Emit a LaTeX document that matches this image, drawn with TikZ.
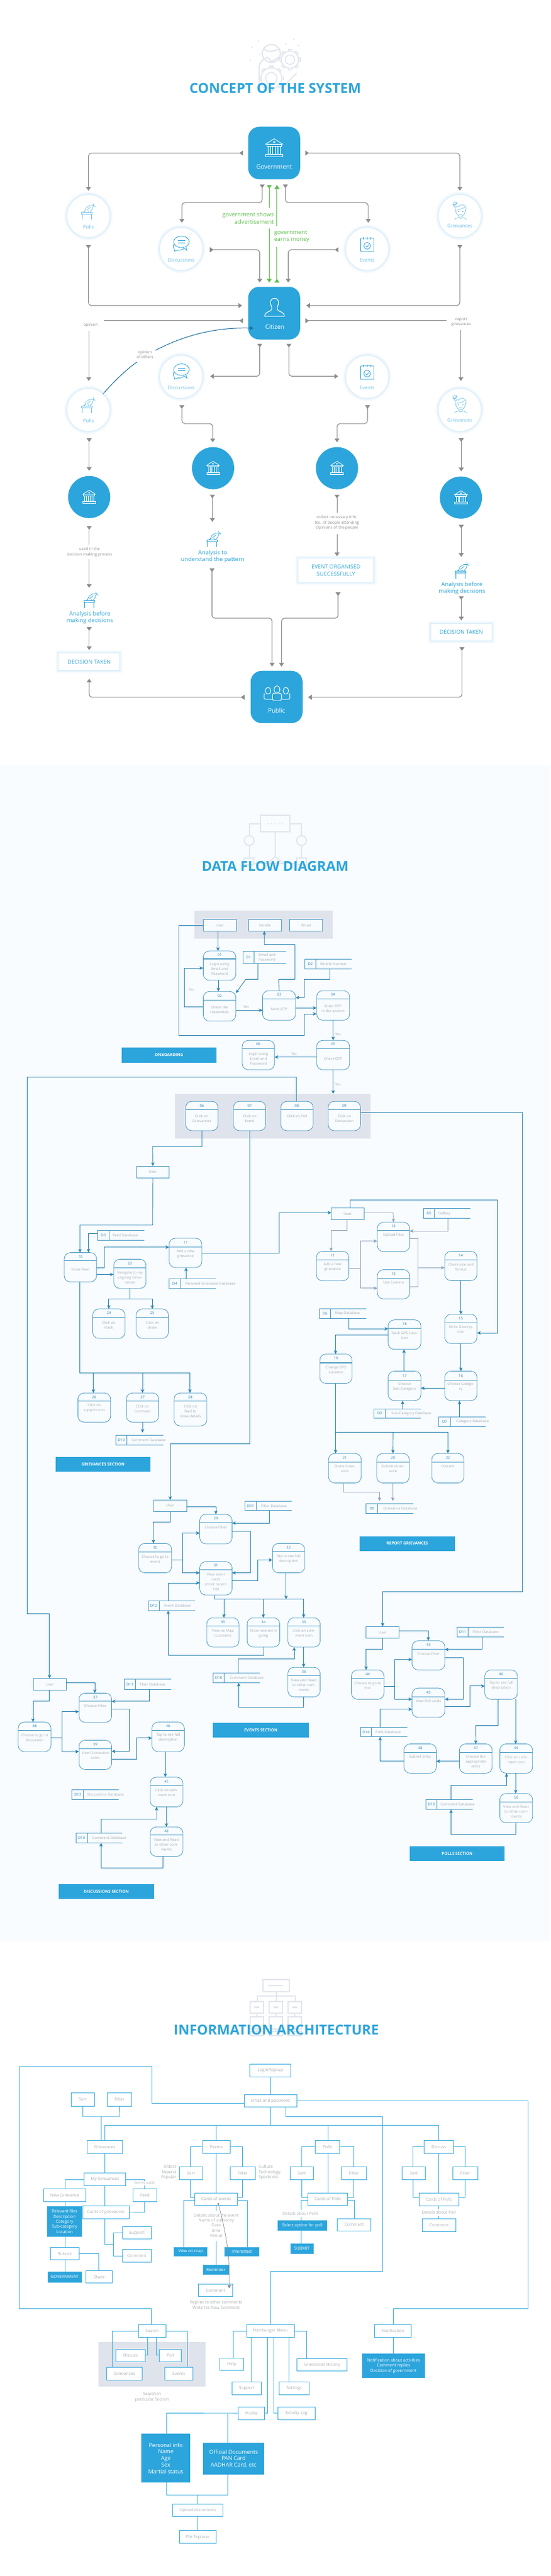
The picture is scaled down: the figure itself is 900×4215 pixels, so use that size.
\documentclass[tikz,border=0pt]{standalone}
\usepackage{fontspec}
\setmainfont{Open Sans}
\usetikzlibrary{arrows.meta,shapes.geometric}
\definecolor{bl}{HTML}{2CA5DC}
\definecolor{lbl}{HTML}{6FC1EB}
\definecolor{gl}{HTML}{BFE3F7}
\definecolor{ag}{HTML}{8C8C8C}
\definecolor{grn}{HTML}{5BBF4A}
\definecolor{dkb}{HTML}{1C6F9F}
\definecolor{bgd}{HTML}{F8FCFF}
\definecolor{pan}{HTML}{DFE3EC}
\definecolor{ico}{HTML}{E2E6EE}
\definecolor{txg}{HTML}{A8ADB2}
\definecolor{fc}{HTML}{2B83B0}
\definecolor{bc}{HTML}{4B9BC4}
\definecolor{fgr}{HTML}{8FA3BD}
\definecolor{il}{HTML}{3FAEE0}
\tikzset{
 crop/.code 2 args={\pgfmathsetmacro\ysc{1/#1}\tikzset{x=0.5740pt,y=-\ysc pt,shift={(0pt,-#2pt)}}},
 base/.style={inner sep=0pt,outer sep=0pt,align=center},
 panelb/.style={base,fill=pan},
 glow/.style={fill=white,preaction={draw=gl,line width=11pt,opacity=.08},preaction={draw=gl,line width=8pt,opacity=.12},preaction={draw=gl,line width=5pt,opacity=.18},preaction={draw=gl,line width=2.5pt,opacity=.25}},
 circ/.style={base,circle,minimum size=69pt,glow},
 bank/.style={base,circle,minimum size=69pt,fill=bl},
 rbox/.style={base,fill=bl,rounded corners=18pt},
 wbox/.style={base,glow,font=\fontsize{9}{11.3}\selectfont,text=bl},
 wlab/.style={base,text=white,font=\fontsize{10}{12}\selectfont},
 clab/.style={base,text=lbl,font=\fontsize{8}{10}\selectfont},
 blab/.style={base,text=bl,font=\fontsize{9.5}{11.3}\selectfont},
 glab/.style={base,text=ag,font=\fontsize{6.5}{8.4}\selectfont},
 gtxt/.style={base,text=grn,font=\fontsize{9.5}{11.3}\selectfont},
 garr/.style={draw=ag,line width=1.1pt,rounded corners=5pt,shorten <=8.5pt,shorten >=8.5pt,{Triangle[reversed,length=6pt,width=8pt]}-{Triangle[length=6pt,width=8pt]}},
 gend/.style={draw=ag,line width=1.1pt,rounded corners=5pt,-{Triangle[length=6pt,width=8pt]}},
 gbeg/.style={draw=ag,line width=1.1pt,rounded corners=5pt,{Triangle[reversed,length=6pt,width=8pt]}-},
 gline/.style={draw=grn,line width=1pt},
 proc/.style={base,draw=bc,line width=.8pt,fill=bgd,rounded corners=10pt},
 hdr/.style={draw=bc,line width=1.1pt},
 numt/.style={base,text=fc,font=\fontsize{6}{8}\selectfont},
 dtxt/.style={base,text=txg,font=\fontsize{6}{8}\selectfont},
 dbox/.style={base,draw=bc,line width=.8pt,fill=bgd,text=txg,font=\fontsize{6}{8}\selectfont},
 dsb/.style={base},
 dsl/.style={draw=bc,line width=.8pt},
 fb/.style={base,fill=bl,text=white,font=\fontsize{6.6}{9}\bfseries\selectfont},
 fl/.style={draw=fc,line width=.9pt,-{Stealth[length=6pt,width=5.5pt,inset=1.5pt]}},
 fn/.style={draw=fc,line width=.9pt},
 fg/.style={draw=fgr,line width=.9pt,-{Stealth[length=6pt,width=5.5pt,inset=1.5pt]}},
 fgn/.style={draw=fgr,line width=.9pt},
 ibox/.style={base,draw=il,line width=.9pt,fill=white,text=txg,font=\fontsize{6.8}{8.3}\selectfont},
 ifill/.style={base,draw=il,line width=.5pt,fill=bl,text=white,font=\fontsize{6.8}{8.3}\selectfont},
 ibig/.style={base,fill=bl,text=white,font=\fontsize{9}{10.7}\selectfont},
 itxt/.style={base,text=txg,font=\fontsize{6.8}{8.3}\selectfont},
 ln/.style={draw=il,line width=.9pt},
 ttl/.style={base,text=bl,font=\fontsize{22.5}{28}\bfseries\selectfont},
 icn/.style={draw=ico,line width=2pt},
 pics/bankic/.style={code={\begin{scope}[x=1pt,y=-1pt,draw=#1,line width=.8pt]
   \draw (-14,-6)--(0,-15)--(14,-6)--cycle;
   \draw (-12,-6) rectangle (12,-3);
   \draw (0,-9.5) circle (1.2);
   \draw (-10,-3) rectangle (-6,10);
   \draw (-2.5,-3) rectangle (2.5,10);
   \draw (6,-3) rectangle (10,10);
   \draw (-14,10) rectangle (14,14);
 \end{scope}}},
 pics/pollic/.style={code={\begin{scope}[x=1pt,y=-1pt,draw=#1,line width=.7pt]
   \draw (-10,1) rectangle (7,4);
   \draw (-9,4)--(-9,13) (6,4)--(6,13);
   \draw[line join=round] (-5,1)--(-2,-6)--(4,-10)--(10,-10)--(8,-4)--(4,1);
   \draw (-1,-2)--(5,-7) (9,-13)--(10,-10)--(13,-8);
   \draw (-7,1)--(-3,-1) (1,-1)--(3,1);
 \end{scope}}},
 pics/discic/.style={code={\begin{scope}[x=1pt,y=-1pt,draw=#1,line width=.8pt]
   \draw (0,-5) ellipse (12.7 and 9.5);
   \draw[fill=white] (7,3)--(9,9)--(3,4.5);
   \draw (-6,-7)--(6,-7) (-6,-3.5)--(6,-3.5);
   \draw (-12.3,-2) .. controls (-14,2) and (-14,5) .. (-12,6.5)--(-11,10.5)--(-6,8.5) .. controls (-2,9) and (2,8) .. (4,5.8);
 \end{scope}}},
 pics/evic/.style={code={\begin{scope}[x=1pt,y=-1pt,draw=#1,line width=.8pt]
   \draw[rounded corners=1pt] (-10.8,-11) rectangle (10.8,11);
   \draw (-6,-13)--(-6,-9) (0,-13)--(0,-9) (6,-13)--(6,-9);
   \draw (0,1.5) circle (5.6);
   \draw (-2.5,1.5)--(-.6,3.5)--(2.8,-.5);
 \end{scope}}},
 pics/grvic/.style={code={\begin{scope}[x=1pt,y=-1pt,draw=#1,line width=.7pt]
   \draw (-8,-3) .. controls (-8,4) and (-4,8) .. (0,8) .. controls (4,8) and (8,4) .. (8,-3);
   \draw (-8,-3) .. controls (-9,-8) and (-6,-9) .. (-3,-8) .. controls (0,-13) and (10,-12) .. (9,-3) -- (8,0);
   \draw (-6,-3) .. controls (-3,-3) and (3,-4) .. (7,-7);
   \draw (-4,0)--(-2,0) (3,0)--(5,0) (-2,4.5)--(2,4.5);
   \draw (-3,7)--(-3,10) .. controls (-6,11) and (-9,11) .. (-10,13) (3,7)--(3,10) .. controls (6,11) and (9,11) .. (10,13);
   \draw (-3,10) .. controls (-1,12) and (1,12) .. (3,10);
   \draw (-9,-13) circle (2.6) (-13,-12)--(-9,-7) (-6,-15)--(-11,-9);
 \end{scope}}},
 pics/citic/.style={code={\begin{scope}[x=1pt,y=-1pt,draw=white,line width=1.1pt]
   \draw (-4.5,-1) .. controls (-8,-7) and (-8,-15) .. (0,-15) .. controls (8,-15) and (8,-7) .. (4.5,-1) -- (4.5,3) .. controls (6,7) and (16,6) .. (16,14) -- (-16,14) .. controls (-16,6) and (-6,7) .. (-4.5,3) -- cycle;
 \end{scope}}},
 pics/pubic/.style={code={\begin{scope}[x=1pt,y=-1pt,draw=white,line width=.9pt]
   \draw (-14.5,-4) ellipse (4.5 and 5.5);
   \draw (14.5,-4) ellipse (4.5 and 5.5);
   \draw (-20,2) .. controls (-21,0) and (-21,1) .. (-21,3) -- (-21,8) .. controls (-21,9) and (-20,10) .. (-19,10) -- (-8,10);
   \draw (20,2) .. controls (21,0) and (21,1) .. (21,3) -- (21,8) .. controls (21,9) and (20,10) .. (19,10) -- (8,10);
   \draw[fill=bl] (0,-6) ellipse (4.8 and 6);
   \draw[fill=bl,rounded corners=3pt] (-7.5,0) rectangle (7.5,12);
 \end{scope}}},
 pics/gearic/.style={code={\begin{scope}[x=1pt,y=-1pt,draw=ico,line width=1.6pt]
   \draw (0,0) circle (#1);
   \pgfmathsetmacro\gi{#1*.55}
   \draw (0,0) circle (\gi);
   \foreach \a in {0,45,...,315}{\draw[rotate=\a] (-2.5,-#1) -- (-2.5,{-#1-2.8}) -- (2.5,{-#1-2.8}) -- (2.5,-#1);}
 \end{scope}}},
}
\newcommand\nb[7][ibox]{\pgfmathsetmacro\nbW{(#5-#3)*0.574}\pgfmathsetmacro\nbH{(#6-#4)*\ysc}\node[#1,minimum width=\nbW pt,minimum height=\nbH pt] (#2) at ({(#3+#5)/2},{(#4+#6)/2}) {#7};}
\newcommand\pr[9]{\nb[proc]{#1}{#2}{#3}{#4}{#5}{}\draw[hdr] (#2,#6) -- (#4,#6);\node[numt] (#1-n) at ({(#2+#4)/2},{(#3+#6)/2}) {#7};\node[dtxt] (#1-t) at ({(#2+#4)/2},#8) {#9};}
\newcommand\ds[9]{\nb[dsb]{#1}{#2}{#3}{#4}{#5}{}\draw[dsl] (#4,#3) -- (#2,#3) -- (#2,#5) -- (#4,#5) (#6,#3) -- (#6,#5);\node[numt] (#1-n) at ({(#2+#6)/2},{(#3+#5)/2}) {#7};\node[dtxt,anchor=west,align=left] (#1-t) at (#8,{(#3+#5)/2}) {#9};}
\begin{document}
\begin{tikzpicture}
\useasboundingbox (0pt,0pt) rectangle (900pt,-4215pt);
\fill[white] (0pt,0pt) rectangle (900pt,-4215pt);
\fill[bgd] (0pt,-1251pt) rectangle (900pt,-3177pt);

%% ---------- CONCEPT, upper part
\begin{scope}[crop={2.376}{0}]
 \draw[icn] (773,208) circle (14.7pt);
 \draw[icn] (752,190) .. controls (762,205) and (780,200) .. (797,190);
 \draw[icn] (738,330) -- (738,265) .. controls (738,240) and (750,230) .. (762,222);
 \draw[icn] (762,222) -- (773,240) -- (795,222) (800,345) -- (845,285);
 \pic at (773,304) {gearic=17};
 \pic at (826,232) {gearic=14};
 \foreach \px/\py in {736/160, 718/185, 741/210, 713/235, 814/172, 837/154, 850/176}{\fill[ico] (\px,\py) circle (1.4pt);}
 \node[ttl] (t1) at (784,343) {CONCEPT OF THE SYSTEM};

 \nb[rbox]{gov}{707}{493}{855}{697}{}
 \pic at (781,575) {bankic=white};
 \node[wlab] (govt) at (781,649) {Government};
 \nb[rbox]{cit}{707}{1115}{855}{1320}{}
 \pic at (782,1196) {citic};
 \node[wlab] (citt) at (783,1271) {Citizen};

 \node[circ] (polls) at (252,840) {};
 \pic at (249,822) {pollic=lbl};
 \node[clab] (pollst) at (252,882) {Polls};
 \node[circ] (griev) at (1310,840) {};
 \pic at (1312,822) {grvic=lbl};
 \node[clab] (grievt) at (1310,879) {Grievances};
 \node[circ] (disc) at (516,968) {};
 \pic at (517,952) {discic=bl};
 \node[clab] (disct) at (516,1011) {Discussions};
 \node[circ] (even) at (1046,968) {};
 \pic at (1046,952) {evic=bl};
 \node[clab] (event) at (1046,1011) {Events};
 \node[circ] (disc2) at (516,1465) {};
 \pic at (517,1449) {discic=bl};
 \node[clab] (disc2t) at (516,1508) {Discussions};
 \node[circ] (even2) at (1046,1465) {};
 \pic at (1046,1449) {evic=bl};
 \node[clab] (even2t) at (1046,1508) {Events};

 \draw[garr,shorten >=7pt] (gov.west) -| (polls.north);
 \draw[garr,shorten >=7pt] (gov.east) -| (griev.north);
 \draw[garr] (gov.south -| 747,0) -- (747,788) -- (518,788) -- (disc.north -| 518,0);
 \draw[garr] (gov.south -| 813,0) -- (813,788) -- (1049,788) -- (even.north -| 1049,0);
 \draw[garr,shorten <=12.5pt,shorten >=7pt] (disc.east |- 0,971) -- (740,971) -- (cit.north -| 740,0);
 \draw[garr,shorten <=12.5pt,shorten >=7pt] (even.west |- 0,971) -- (821,971) -- (cit.north -| 821,0);
 \draw[garr,shorten <=13pt,shorten >=10pt] (polls.south) -- (252,1188) -- (cit.west |- 0,1188);
 \draw[garr,shorten <=13pt,shorten >=10pt] (griev.south) -- (1310,1188) -- (cit.east |- 0,1188);

 \node[gtxt,anchor=east,align=right] (gshow) at (780,848) {government shows\\advertisement};
 \node[gtxt,anchor=west,align=left] (gearn) at (781,920) {government\\earns money};
 \coordinate (ga1) at (767,808); \coordinate (ga2) at (767,888);
 \coordinate (gb1) at (789,880); \coordinate (gb2) at (789,960);
 \draw[gline,shorten <=9.5pt,{Triangle[reversed,length=6pt,width=8pt]}-] (gov.south -| 767,0) -- (ga1);
 \draw[gline,shorten >=7pt,-{Triangle[length=6pt,width=8pt]}] (ga2) -- (cit.north -| 767,0);
 \draw[gline,shorten >=9.5pt,-{Triangle[length=6pt,width=8pt]}] (gb1) -- (gov.south -| 789,0);
 \draw[gline,shorten <=7pt,{Triangle[reversed,length=6pt,width=8pt]}-] (cit.north -| 789,0) -- (gb2);

 \node[glab] (opin) at (258,1263) {opinion};
 \draw[gbeg,shorten <=8.5pt] (cit.west |- 0,1247) -- (296,1247);
 \draw[gend,shorten >=13pt] (opin.south -| 253,0) ++(0,15) -- (253,1512);
 \node[glab] (repg) at (1314,1252) {report\\grievances};
 \draw[gbeg,shorten <=8.5pt] (cit.east |- 0,1247) -- (1272,1247);
 \draw[gend,shorten >=13pt] (repg.south -| 1313,0) ++(0,15) -- (1313,1512);

 \node[glab] (opo) at (413,1379) {opinion\\of others};
 \fill[dkb] (290,1537) circle (2.4pt);
 \draw[draw=dkb,line width=1pt] (290,1537) .. controls (320,1490) and (360,1435) .. (390,1408);
 \draw[draw=dkb,line width=1pt,-{Triangle[length=6pt,width=7pt]}] (443,1362) .. controls (530,1300) and (620,1272) .. (722,1276);
 \draw[garr,shorten <=7pt,shorten >=13pt] (cit.south -| 740,0) -- (740,1463) -- (disc2.east |- 0,1463);
 \draw[garr,shorten <=7pt,shorten >=13pt] (cit.south -| 823,0) -- (823,1463) -- (even2.west |- 0,1463);
\end{scope}

%% ---------- CONCEPT, lower part
\begin{scope}[crop={2.412}{650}]
 \node[circ] (polls2) at (252,50) {};
 \pic at (249,32) {pollic=lbl};
 \node[clab] (polls2t) at (252,94) {Polls};
 \node[circ] (griev2) at (1310,50) {};
 \pic at (1312,30) {grvic=lbl};
 \node[clab] (griev2t) at (1310,90) {Grievances};
 \node[bank] (c1) at (254,394) {};
 \pic[scale=.75] at (254,394) {bankic=white};
 \node[bank] (c2) at (607,280) {};
 \pic[scale=.75] at (607,280) {bankic=white};
 \node[bank] (c3) at (960,280) {};
 \pic[scale=.75] at (960,280) {bankic=white};
 \node[bank] (c4) at (1313,396) {};
 \pic[scale=.75] at (1313,396) {bankic=white};

 \draw[garr,shorten <=12pt,shorten >=8.5pt] (polls2.south -| 254,0) -- (c1.north);
 \draw[garr,shorten <=12pt,shorten >=8.5pt] (griev2.south -| 1314,0) -- (c4.north -| 1314,0);
 \draw[garr,shorten <=12pt,shorten >=8pt] (disc2.south -| 518,0) -- (518,104) -- (606,104) -- (c2.north -| 606,0);
 \draw[garr,shorten <=12pt,shorten >=8pt] (even2.south -| 1047,0) -- (1047,104) -- (960,104) -- (c3.north);

 \node[glab] (usd) at (255,611) {used in the\\decision making process};
 \draw[gbeg,shorten <=13pt] (c1.south -| 254,0) -- (254,582);
 \pic at (257,800) {pollic=bl};
 \node[blab] (an1) at (256,870) {Analysis before\\making decisions};
 \draw[gend] (254,640) -- (254,752);
 \nb[wbox]{dec1}{168}{1011}{340}{1077}{DECISION TAKEN}
 \draw[garr,shorten <=5pt,shorten >=5.4pt] (an1.south -| 254,0) -- (dec1.north -| 254,0);

 \pic at (607,560) {pollic=bl};
 \node[blab] (an2) at (606,629) {Analysis to\\understand the pattern};
 \draw[garr,shorten <=9pt,shorten >=8pt] (c2.south -| 605,0) -- (605,511);
 \nb[wbox]{ev1}{851}{637}{1063}{729}{EVENT ORGANISED\\SUCCESSFULLY}
 \node[glab] (coll) at (960,496) {collect necessary info.\\No. of people attending\\Opinions of the people};
 \draw[gbeg,shorten <=9pt] (c3.south) -- (960,457);
 \draw[gend,shorten >=4pt] (960,540) -- (ev1.north -| 960,0);

 \draw[garr,shorten <=10pt,shorten >=0pt] (c4.south -| 1314,0) -- (1314,630);
 \pic at (1314,684) {pollic=bl};
 \node[blab] (an3) at (1316,753) {Analysis before\\making decisions};
 \nb[wbox]{dec2}{1228}{895}{1400}{960}{DECISION TAKEN}
 \draw[garr,shorten <=3pt,shorten >=6pt] (an3.south -| 1314,0) -- (dec2.north -| 1314,0);

 \nb[rbox]{pub}{714}{1080}{862}{1286}{}
 \pic at (789,1168) {pubic};
 \node[wlab] (pubt) at (788,1237) {Public};
 \draw[garr,shorten <=9pt,shorten >=7pt] (an2.south -| 604,0) -- (604,872) -- (775,872) -- (pub.north -| 775,0);
 \draw[garr,shorten <=17pt,shorten >=7pt] (ev1.south -| 963,0) -- (963,872) -- (802,872) -- (pub.north -| 802,0);
 \draw[garr,shorten <=11pt,shorten >=9pt] (dec2.south -| 1316,0) -- (1316,1184) -- (pub.east |- 0,1184);
 \draw[garr,shorten <=10pt,shorten >=14pt] (pub.west |- 0,1184) -- (254,1184) -- (dec1.south -| 254,0);
\end{scope}

%% ---------- DFD top
\begin{scope}[crop={3}{1300}]
 \draw[icn] (743,103) rectangle (825,183);
 \foreach \px in {763,773,784,794,803}{\fill[ico] (\px,143) circle (1.1pt);}
 \draw[icn] (743,143) -- (710,143) -- (710,202) (710,250) -- (710,312);
 \draw[icn] (825,143) -- (859,143) -- (859,202) (859,250) -- (859,312);
 \draw[icn] (710,226) ellipse (8pt and 8pt);
 \draw[icn] (859,226) ellipse (8pt and 8pt);
 \draw[icn] (784,183) -- (784,305);
 \draw[icn] (695,312) rectangle (723,345);
 \draw[icn] (845,312) rectangle (873,345);
 \draw[icn] (760,340) -- (784,305) -- (808,340);
 \draw[icn] (723,340) -- (845,340);
 \node[ttl] (t2) at (784,351) {DATA FLOW DIAGRAM};

 \nb[panelb]{pan1}{554}{571}{947}{709}{}
 \nb[dbox]{uL}{579}{613}{673}{671}{User}
 \nb[dbox]{mob}{708}{613}{802}{671}{Mobile}
 \nb[dbox]{eml}{825}{613}{919}{671}{Email}
 \pr{p01}{579}{768}{672}{912}{807}{01}{856}{Login using\\Email and\\Password}
 \pr{p02}{579}{967}{672}{1112}{1009}{02}{1057}{Check the\\credentials}
 \pr{p03}{748}{963}{842}{1108}{1004}{03}{1054}{Send OTP}
 \pr{p04}{902}{963}{996}{1108}{1004}{04}{1052}{Enter OTP\\in the system}
 \pr{p05}{902}{1207}{996}{1351}{1246}{05}{1297}{Check OTP}
 \pr{p06}{690}{1207}{782}{1351}{1246}{06}{1297}{Login using\\Email and\\Password}
 \ds{d1}{692}{768}{815}{829}{724}{D1}{737}{Email and\\Password}
 \ds{d2}{868}{808}{1002}{857}{900}{D2}{912}{Mobile Number}
 \nb[fb]{sec1}{346}{1243}{617}{1316}{ONBOARDING}
 \node[dtxt] (no1) at (545,958) {No};
 \node[dtxt] (ye1) at (701,1041) {Yes};
 \node[dtxt] (ye2) at (963,1176) {Yes};
 \node[dtxt] (no2) at (838,1273) {No};
 \node[dtxt] (ye3) at (963,1423) {Yes};
 \draw[fl] (uL.south -| 621,0) -- (p01.north -| 621,0);
 \draw[fl] (p01.south -| 622,0) -- (p02.north -| 622,0);
 \draw[fl] (p02.west |- 0,1043) -- (525,1043) -- (525,852) -- (p01.west |- 0,852);
 \draw[fl] (p02.east |- 0,1059) -- (p03.west |- 0,1059);
 \draw[fl] (d1.south -| 735,0) -- (735,907) -- (700,907) -- (p02.east |- 0,975);
 \draw[fl] (p03.north) -- (794,907) -- (840,907) -- (840,737) -- (753,737) -- (mob.south -| 753,0);
 \draw[fl] (d2.south -| 939,0) -- (939,907) -- (866,907) -- (866,997) -- (p03.east |- 0,997);
 \draw[fl] (p03.east |- 0,1048) -- (p04.west |- 0,1048);
 \draw[fl] (uL.west |- 0,644) -- (510,644) -- (510,1183) -- (867,1183) -- (867,1077) -- (p04.west |- 0,1077);
 \draw[fl] (p04.south) -- (p05.north);
 \draw[fl] (p05.west |- 0,1289) -- (p06.east |- 0,1289);
\end{scope}

%% ---------- DFD grievances
\begin{scope}[crop={2.8}{1790}]
 \nb[panelb]{pan2}{499}{0}{1055}{203}{}
 \draw[fl] (p05.south) -- (pan2.north -| 949,0);
 \pr{p6b}{529}{34}{621}{168}{72}{06}{113}{Click on\\Grievances}
 \pr{p07}{665}{34}{757}{168}{72}{07}{113}{Click on\\Event}
 \pr{p08}{800}{34}{892}{168}{72}{08}{102}{Click on Poll}
 \pr{p09}{935}{34}{1027}{168}{72}{09}{113}{Click on\\Discussion}
 \nb[dbox]{uG}{389}{331}{482}{385}{User}
 \pr{p10}{183}{727}{275}{861}{763}{10}{805}{Show Feed}
 \ds{d3}{278}{626}{412}{670}{311}{D3}{321}{Feed Database}
 \pr{p11}{482}{661}{575}{795}{702}{11}{733}{Add a new\\grievance}
 \pr{p23}{324}{757}{416}{891}{797}{23}{840}{Navigate to my\\ongoing Griev-\\ances}
 \ds{d4}{482}{847}{615}{891}{514}{D4}{528}{Personal Grievance Database}
 \pr{p24}{264}{985}{356}{1120}{1024}{24}{1060}{Click on\\track}
 \pr{p25}{388}{985}{480}{1120}{1024}{25}{1060}{Click on\\share}
 \pr{p26}{222}{1370}{315}{1504}{1408}{26}{1440}{Click on\\support icon}
 \pr{p27}{360}{1370}{452}{1504}{1408}{27}{1444}{Click on\\comment}
 \pr{p28}{496}{1370}{589}{1521}{1408}{28}{1455}{Click on\\feed to\\show details}
 \nb[dbox]{uR}{944}{522}{1037}{576}{User}
 \ds{d5}{1206}{526}{1339}{570}{1238}{D5}{1249}{Gallery}
 \pr{p12}{1075}{588}{1167}{722}{625}{12}{648}{Upload Files}
 \pr{p13}{1075}{805}{1167}{939}{843}{13}{864}{Use Camera}
 \pr{p1r}{901}{721}{994}{856}{761}{11}{793}{Add a new\\grievance}
 \pr{p14}{1267}{721}{1359}{855}{761}{14}{792}{Check size and\\format}
 \pr{p15}{1267}{1010}{1359}{1143}{1048}{15}{1080}{Write Descrip-\\tion}
 \pr{p16}{1267}{1270}{1359}{1405}{1311}{16}{1341}{Choose Catego-\\ry}
 \pr{p17}{1106}{1270}{1199}{1405}{1311}{17}{1341}{Choose\\Sub-Category}
 \pr{p18}{1106}{1035}{1199}{1170}{1074}{18}{1107}{Track GPS Loca-\\tion}
 \pr{p19}{911}{1192}{1003}{1326}{1232}{19}{1263}{Change GPS\\Location}
 \ds{d6}{910}{983}{1044}{1028}{942}{D6}{955}{Map Database}
 \ds{d8}{1065}{1442}{1199}{1486}{1099}{D8}{1115}{Sub-Category Database}
 \ds{d7}{1250}{1479}{1384}{1524}{1283}{D7}{1300}{Category Database}

 \draw[fl] (p6b.south -| 575,0) -- (575,242) -- (435,242) -- (uG.north);
 \draw[fl] (uG.south) -- (435,600) -- (228,600) -- (p10.north -| 228,0);
 \draw[fl] (d3.west |- 0,641) -- (252,641) -- (p10.north -| 252,0);
 \draw[fl] (p10.east |- 0,797) -- (297,797) -- (297,702) -- (p11.west |- 0,702);
 \draw[fl] (p10.east |- 0,827) -- (p23.west |- 0,827);
 \draw[fl] (d4.north -| 530,0) -- (p11.south -| 530,0);
 \draw[fn] (p23.south) -- (370,940);
 \draw[fl] (370,940) -- (310,940) -- (p24.north -| 310,0);
 \draw[fl] (370,940) -- (434,940) -- (p25.north);
 \draw[fl] (p10.south -| 228,0) -- (228,1278) -- (541,1278) -- (p28.north -| 541,0);
 \draw[fl] (266,1278) -- (p26.north -| 266,0);
 \draw[fl] (406,1278) -- (p27.north);
 \draw[fl] (p11.east |- 0,728) -- (795,728) -- (795,544) -- (uR.west |- 0,544);
 \draw[fl] (uR.north -| 998,0) -- (998,485) -- (1417,485) -- (1417,1095) -- (p15.east |- 0,1095);
 \draw[fg] (uR.east |- 0,544) -- (1120,544) -- (p12.north);
 \draw[fg] (uR.south -| 989,0) -- (989,625) -- (943,625) -- (p1r.north -| 943,0);
 \draw[fg] (d5.south -| 1276,0) -- (1276,628) -- (p12.east |- 0,628);
 \draw[fgn] (p1r.east |- 0,799) -- (1027,799);
 \draw[fg] (1027,799) -- (1027,674) -- (p12.west |- 0,674);
 \draw[fg] (1027,799) -- (1027,890) -- (p13.west |- 0,890);
 \draw[fgn] (p12.east |- 0,661) -- (1191,661) -- (1191,884) -- (p13.east |- 0,884);
 \draw[fg] (1191,796) -- (p14.west |- 0,796);
 \draw[fl] (p14.south) -- (p15.north);
 \draw[fl] (p15.south) -- (p16.north);
 \draw[fl] (p16.west |- 0,1348) -- (p17.east |- 0,1348);
 \draw[fl] (p17.north -| 1151,0) -- (p18.south -| 1151,0);
 \draw[fl] (d6.south -| 993,0) -- (993,1076) -- (p18.west |- 0,1076);
 \draw[fl] (p18.west |- 0,1105) -- (956,1105) -- (p19.north -| 956,0);
 \draw[fl] (d8.north -| 1147,0) -- (p17.south -| 1147,0);
 \draw[fl] (d7.north -| 1309,0) -- (p16.south -| 1309,0);
\end{scope}

%% ---------- DFD events, polls, discussions
\begin{scope}[crop={2.8}{2340}]
 \ds{d10g}{330}{23}{465}{68}{361}{D10}{375}{Comment Database}
 \draw[fl,shorten >=4pt] (p27.south) -- (d10g.north -| 406,0);
 \nb[fb]{sec2}{158}{124}{429}{190}{GRIEVANCES SECTION}
 \pr{p21}{936}{107}{1029}{242}{146}{21}{178}{Share Griev-\\ance}
 \pr{p20}{1073}{107}{1166}{242}{146}{20}{178}{Submit Griev-\\ance}
 \pr{p22}{1230}{107}{1322}{242}{146}{22}{167}{Discard}
 \ds{d9}{1043}{338}{1177}{382}{1076}{D9}{1092}{Grievance Database}
 \nb[fb]{sec3}{1025}{486}{1296}{553}{REPORT GRIEVANCES}
 \draw[fl] (p19.south -| 956,0) -- (p21.north -| 956,0);
 \draw[fl] (956,10) -- (1276,10) -- (p22.north);
 \draw[fl] (1120,10) -- (p20.north);
 \draw[fg] (p21.south -| 978,0) -- (978,285) -- (1081,285) -- (1081,325);
 \draw[fg] (p20.south -| 1119,0) -- (1119,325);

 \nb[dbox]{uE}{438}{320}{532}{373}{User}
 \ds{d11e}{697}{325}{831}{369}{731}{D11}{744}{Filter Database}
 \pr{p29}{569}{386}{661}{521}{424}{29}{446}{Choose Filter}
 \pr{p30}{395}{519}{489}{654}{559}{30}{591}{Choose to go to\\event}
 \pr{p31}{569}{603}{661}{756}{639}{31}{696}{View event\\cards\\(most recent\\1st)}
 \pr{p32}{776}{519}{868}{654}{557}{32}{591}{Tap to see full\\description}
 \ds{d12}{422}{782}{555}{827}{454}{D12}{468}{Event Database}
 \pr{p33}{589}{860}{681}{994}{898}{33}{931}{View on Map\\(Location)}
 \pr{p34}{704}{860}{797}{994}{898}{34}{931}{Show interest in\\going}
 \pr{p35}{820}{860}{912}{994}{898}{35}{931}{Click on com-\\ment icon}
 \pr{p36}{820}{1087}{912}{1222}{1125}{36}{1169}{View and React\\to other com-\\ments}
 \ds{d10e}{607}{1113}{741}{1158}{639}{D10}{654}{Comment Database}
 \nb[fb]{sec4}{607}{1342}{879}{1408}{EVENTS SECTION}
 \draw[fl] (p07.south -| 711,0) -- (711,64) -- (485,64) -- (uE.north);
 \draw[fl] (uE.east |- 0,351) -- (615,351) -- (p29.north);
 \draw[fl] (uE.south) -- (485,422) -- (437,422) -- (p30.north -| 437,0);
 \draw[fl] (d11e.south -| 768,0) -- (768,426) -- (p29.east |- 0,426);
 \draw[fn] (p30.east |- 0,596) -- (520,596);
 \draw[fl] (520,596) -- (520,472) -- (p29.west |- 0,472);
 \draw[fl] (520,596) -- (520,654) -- (p31.west |- 0,654);
 \draw[fl] (p29.east |- 0,462) -- (714,462) -- (714,654) -- (p31.east |- 0,654);
 \draw[fl] (p31.east |- 0,689) -- (734,689) -- (734,595) -- (p32.west |- 0,595);
 \draw[fl] (p32.south -| 815,0) -- (815,775);
 \draw[fl] (d12.north -| 480,0) -- (480,700) -- (p31.west |- 0,700);
 \draw[fl] (p31.south -| 611,0) -- (611,775) -- (865,775) -- (p35.north -| 865,0);
 \draw[fl] (638,775) -- (p33.north -| 638,0);
 \draw[fl] (750,775) -- (p34.north -| 750,0);
 \draw[fl] (p34.south -| 751,0) -- (751,1033) -- (479,1033) -- (d12.south -| 479,0);
 \draw[fl] (p35.south -| 865,0) -- (p36.north -| 865,0);
 \draw[fl] (d10e.north -| 679,0) -- (679,1049) -- (838,1049) -- (p35.south -| 838,0);
 \draw[fl] (p36.south -| 865,0) -- (865,1269) -- (680,1269) -- (d10e.south -| 680,0);

 \nb[dbox]{uP}{1043}{900}{1137}{953}{User}
 \ds{d11p}{1302}{904}{1436}{948}{1334}{D11}{1347}{Filter Database}
 \pr{p43}{1174}{965}{1267}{1099}{1003}{43}{1025}{Choose Filter}
 \pr{p44}{1001}{1099}{1094}{1233}{1138}{44}{1171}{Choose to go to\\Poll}
 \pr{p45}{1174}{1182}{1267}{1316}{1221}{45}{1242}{View Poll cards}
 \pr{p46}{1381}{1099}{1474}{1233}{1138}{46}{1171}{Tap to see full\\description}
 \ds{d14}{1027}{1361}{1160}{1405}{1059}{D14}{1070}{Polls Database}
 \pr{p48}{1151}{1438}{1243}{1572}{1476}{48}{1499}{Submit Entry}
 \pr{p47}{1309}{1438}{1402}{1572}{1476}{47}{1521}{Choose the\\appropriate\\entry}
 \pr{p49}{1424}{1438}{1517}{1572}{1476}{49}{1510}{Click on com-\\ment icon}
 \draw[fl] (p09.east |- 0,-1455) -- (1488,-1455) -- (1488,741) -- (1090,741) -- (uP.north -| 1090,0);
 \draw[fl] (uP.east |- 0,920) -- (1220,920) -- (p43.north -| 1220,0);
 \draw[fl] (uP.south -| 1089,0) -- (1089,1004) -- (1043,1004) -- (p44.north -| 1043,0);
 \draw[fl] (d11p.south -| 1374,0) -- (1374,1005) -- (p43.east |- 0,1005);
 \draw[fn] (p44.east |- 0,1174) -- (1125,1174);
 \draw[fl] (1125,1174) -- (1125,1051) -- (p43.west |- 0,1051);
 \draw[fl] (1125,1174) -- (1125,1233) -- (p45.west |- 0,1233);
 \draw[fl] (p43.east |- 0,1042) -- (1320,1042) -- (1320,1233) -- (p45.east |- 0,1233);
 \draw[fl] (p45.east |- 0,1268) -- (1339,1268) -- (1339,1173) -- (p46.west |- 0,1173);
 \draw[fl] (d14.north -| 1082,0) -- (1082,1279) -- (p45.west |- 0,1279);
 \draw[fl] (p46.south -| 1419,0) -- (1419,1354) -- (1355,1354) -- (p47.north);
 \draw[fl] (p46.south -| 1469,0) -- (p49.north -| 1469,0);
 \draw[fl] (p47.west |- 0,1517) -- (p48.east |- 0,1517);
 \draw[fl] (p48.west |- 0,1517) -- (1083,1517) -- (d14.south -| 1083,0);

 \nb[dbox]{uD}{95}{1138}{189}{1191}{User}
 \ds{d11d}{354}{1142}{488}{1187}{386}{D11}{398}{Filter Database}
 \pr{p37}{225}{1205}{318}{1339}{1242}{37}{1264}{Choose Filter}
 \pr{p38}{52}{1338}{145}{1473}{1376}{38}{1409}{Choose to go to\\Discussion}
 \pr{p39}{225}{1421}{318}{1555}{1459}{39}{1491}{View Discussion\\cards}
 \pr{p40}{433}{1338}{525}{1473}{1376}{40}{1409}{Tap to see full\\description}
 \draw[fl] (p08.north -| 844,0) -- (844,-1617.5) -- (78,-1617.5) -- (78,842) -- (141,842) -- (uD.north -| 141,0);
 \draw[fl] (uD.east |- 0,1158) -- (270,1158) -- (p37.north -| 270,0);
 \draw[fl] (uD.south -| 141,0) -- (141,1241) -- (94,1241) -- (p38.north -| 94,0);
 \draw[fl] (d11d.south -| 425,0) -- (425,1243) -- (p37.east |- 0,1243);
 \draw[fn] (p38.east |- 0,1411) -- (177,1411);
 \draw[fl] (177,1411) -- (177,1290) -- (p37.west |- 0,1290);
 \draw[fl] (177,1411) -- (177,1473) -- (p39.west |- 0,1473);
 \draw[fl] (p37.east |- 0,1278) -- (369,1278) -- (369,1472) -- (p39.east |- 0,1472);
 \draw[fl] (p39.east |- 0,1507) -- (390,1507) -- (390,1411) -- (p40.west |- 0,1411);
\end{scope}

%% ---------- DFD end, IA head
\begin{scope}[crop={2.8}{2900}]
 \pr{p41}{428}{22}{521}{158}{61}{41}{94}{Click on com-\\ment icon}
 \ds{d13}{205}{79}{338}{123}{238}{D13}{247}{Discussions Database}
 \pr{p42}{428}{250}{521}{385}{288}{42}{332}{View and React\\to other com-\\ments}
 \ds{d10d}{216}{279}{349}{323}{249}{D10}{263}{Comment Database}
 \nb[fb]{sec5}{167}{511}{439}{579}{DISCUSSIONS SECTION}
 \draw[fl] (p40.south -| 471,0) -- (p41.north -| 471,0);
 \draw[fl] (p41.south -| 474,0) -- (p42.north -| 474,0);
 \draw[fl] (d10d.north -| 289,0) -- (289,214) -- (446,214) -- (p41.south -| 446,0);
 \draw[fl] (p42.south -| 465,0) -- (465,438) -- (288,438) -- (d10d.south -| 288,0);

 \pr{p50}{1424}{97}{1517}{231}{135}{50}{179}{View and React\\to other com-\\ments}
 \ds{d10p}{1213}{125}{1347}{170}{1245}{D10}{1255}{Comment Database}
 \nb[fb]{sec6}{1167}{338}{1438}{405}{POLLS SECTION}
 \draw[fl] (p49.south -| 1469,0) -- (p50.north -| 1469,0);
 \draw[fl] (d10p.north -| 1285,0) -- (1285,61) -- (1443,61) -- (p49.south -| 1443,0);
 \draw[fl] (p50.south -| 1469,0) -- (1469,283) -- (1285,283) -- (d10p.south -| 1285,0);

 \draw[icn] (749,950) rectangle (824,1004);
 \draw[ico,line width=2.5pt] (765,977) -- (807,977);
 \draw[icn] (787,1004) -- (787,1025) (733,1050) -- (733,1025) -- (841,1025) -- (841,1050) (787,1025) -- (787,1050);
 \foreach \bx in {713,767,821}{
  \draw[icn] (\bx,1050) rectangle ++(38,54);
  \draw[ico,line width=2.5pt] ({\bx+12},1077) -- ({\bx+26},1077);
  \draw[icn] ({\bx+19},1104) -- ({\bx+19},1120);
  \draw[icn] (\bx,1120) rectangle ++(38,55);
  \draw[icn] ({\bx+19},1175) -- ({\bx+19},1186);
  \draw[icn] (\bx,1186) rectangle ++(38,22);
 }
 \node[ttl] (t3) at (787,1180) {INFORMATION ARCHITECTURE};
 \nb{login}{712}{1337}{829}{1395}{Login/Signup}
 \nb{email}{696}{1476}{845}{1534}{Email and password}
 \nb{sortg}{203}{1469}{269}{1529}{Sort}
 \nb{filtg}{305}{1469}{376}{1529}{Filter}
 \draw[ln] (login.south -| 770,0) -- (email.north -| 770,0);
\end{scope}

%% ---------- IA
\begin{scope}[crop={2.05}{3450}]
 \nb{griev3}{248}{107}{349}{150}{Grievances}
 \nb{evn}{577}{107}{656}{150}{Events}
 \nb{pln}{898}{107}{968}{150}{Polls}
 \nb{dcs}{1208}{107}{1292}{150}{Discuss}
 \nb{myg}{240}{216}{358}{259}{My Grievances}
 \nb{newg}{124}{270}{245}{313}{New Grievance}
 \nb{feed}{378}{270}{447}{313}{Feed}
 \node[itxt,font=\fontsize{5.2}{6.5}\selectfont] (seen) at (412,251) {Seen by public};
 \nb{cardg}{236}{327}{368}{370}{Cards of grievances}
 \nb[ifill]{relv}{135}{329}{233}{429}{Relevant files\\Description\\Category\\Sub-category\\Location}
 \nb{subm}{144}{466}{226}{508}{Submit}
 \nb[ifill]{gvn}{136}{547}{233}{582}{GOVERNMENT}
 \nb{shr}{245}{544}{320}{586}{Share}
 \nb{supp}{349}{396}{431}{438}{Support}
 \nb{cmtg}{349}{473}{431}{516}{Comment}

 \nb[panelb]{pan3}{281}{783}{585}{933}{}
 \nb{srch}{394}{725}{473}{768}{Search}
 \nb{dsc2}{330}{808}{414}{850}{Discuss}
 \nb{pol2}{454}{808}{517}{850}{Poll}
 \nb{grv2}{304}{868}{405}{911}{Grievances}
 \nb{evn2}{470}{868}{549}{911}{Events}
 \node[itxt] (srt) at (433,968) {Search in\\particular Section};
 \nb{ham}{703}{725}{838}{768}{Hamburger Menu}
 \nb{ntf}{1067}{725}{1172}{768}{Notification}

 \draw[ln] (email.west |- 0,-16.8) -- (433,-16.8) -- (433,-140.6) -- (54,-140.6) -- (54,671) -- (431,671) -- (srch.north -| 431,0);
 \draw[ln] (email.east |- 0,-26.4) -- (1505,-26.4) -- (1505,671) -- (1121,671) -- (ntf.north -| 1121,0);
 \draw[ln] (email.south -| 770,0) -- (770,56);
 \draw[ln] (griev3.north -| 299,0) -- (299,56) -- (1250,56) -- (dcs.north -| 1250,0);
 \draw[ln] (616,56) -- (evn.north -| 616,0) (935,56) -- (pln.north -| 935,0);
 \draw[ln] (email.south -| 814,0) -- (814,27) -- (1090,27) -- (1090,547) -- (770,547) -- (ham.north -| 770,0);
 \draw[ln] (sortg.south) -- (236,27) -- (340,27) -- (filtg.south);
 \draw[ln] (288,27) -- (griev3.north -| 288,0);
 \draw[ln] (griev3.south -| 299,0) -- (myg.north -| 299,0);
 \draw[ln] (myg.west |- 0,238) -- (185,238) -- (newg.north -| 185,0);
 \draw[ln] (myg.east |- 0,238) -- (412,238) -- (412,243);
 \draw[ln] (412,259) -- (feed.north -| 412,0);
 \draw[ln] (myg.south -| 299,0) -- (cardg.north -| 299,0);
 \draw[ln] (feed.south -| 412,0) -- (412,348) -- (cardg.east);
 \draw[ln] (newg.south -| 185,0) -- (relv.north -| 185,0);
 \draw[ln] (relv.south -| 185,0) -- (subm.north);
 \draw[ln] (subm.south) -- (gvn.north -| 185,0);
 \draw[ln] (subm.east |- 0,487) -- (282,487) -- (shr.north -| 282,0);
 \draw[ln] (cardg.south -| 299,0) -- (299,456) -- (323,456);
 \draw[ln] (supp.west) -- (323,417) -- (323,494) -- (cmtg.west |- 0,494);

 \nb{srte}{511}{195}{577}{238}{Sort}
 \nb{flte}{656}{195}{727}{238}{Filter}
 \nb{cde}{555}{283}{677}{325}{Cards of events}
 \node[itxt,anchor=east,align=right] (olds) at (502,214) {Oldest\\Newest\\Popular};
 \node[itxt,anchor=west,align=left] (cult) at (737,214) {Culture\\Technology\\Sports etc.};
 \nb[ifill]{vmap}{496}{465}{590}{495}{View on map}
 \nb[ifill]{intr}{640}{465}{737}{495}{Interested}
 \nb[ifill]{remd}{578}{526}{652}{555}{Reminder}
 \node[itxt] (dtl) at (616,392) {Details about the event\\Name of authority\\Date\\time\\Venue};
 \nb{cmte}{566}{589}{662}{631}{Comment}
 \node[itxt] (rep) at (616,659) {Replies to other comments\\Write his New Comment};
 \draw[ln] (evn.west) -- (543,128) -- (srte.north -| 543,0);
 \draw[ln] (evn.east) -- (691,128) -- (flte.north -| 691,0);
 \draw[ln] (srte.south -| 543,0) -- (543,298) -- (cde.west |- 0,298);
 \draw[ln] (flte.south -| 691,0) -- (691,298) -- (cde.east |- 0,298);
 \draw[ln] (evn.south -| 616,0) -- (cde.north -| 616,0);
 \draw[ln] (cde.west |- 0,308) -- (524,308) -- (vmap.north -| 524,0);
 \draw[ln] (cde.east |- 0,308) -- (704,308) -- (intr.north -| 704,0);
 \draw[ln] (cde.south -| 616,0) -- (616,345) (616,445) -- (remd.north -| 616,0);
 \fill[ag] (622,320) circle (1.8pt);
 \draw[draw=ag,line width=.7pt,-{Triangle[length=5pt,width=6pt]}] (622,320) .. controls (640,400) and (655,480) .. (653,603);

 \nb{srtp}{827}{195}{893}{238}{Sort}
 \nb{fltp}{973}{195}{1044}{238}{Filter}
 \nb{cdp}{877}{283}{990}{325}{Cards of Polls}
 \node[itxt] (dtp) at (856,352) {Details about Polls};
 \nb[ifill]{sel}{792}{376}{930}{408}{Select option for poll}
 \nb[ifill]{sbm}{828}{453}{892}{487}{SUBMIT}
 \nb{cmtp}{961}{369}{1057}{411}{Comment}
 \draw[ln] (pln.west) -- (859,128) -- (srtp.north -| 859,0);
 \draw[ln] (pln.east) -- (1008,128) -- (fltp.north -| 1008,0);
 \draw[ln] (srtp.south -| 859,0) -- (859,298) -- (cdp.west |- 0,298);
 \draw[ln] (fltp.south -| 1008,0) -- (1008,298) -- (cdp.east |- 0,298);
 \draw[ln] (pln.south -| 935,0) -- (cdp.north -| 935,0);
 \draw[ln] (cdp.west |- 0,308) -- (858,308) -- (858,340) (858,364) -- (sel.north -| 858,0);
 \draw[ln] (sel.south -| 858,0) -- (sbm.north -| 858,0);
 \draw[ln] (cdp.east |- 0,308) -- (1010,308) -- (cmtp.north -| 1010,0);

 \nb{srtd}{1146}{196}{1212}{238}{Sort}
 \nb{fltd}{1290}{196}{1361}{238}{Filter}
 \nb{cdd}{1194}{284}{1307}{326}{Cards of Polls}
 \node[itxt] (dtd) at (1250,349) {Details about Poll};
 \nb{cmtd}{1202}{370}{1299}{412}{Comment}
 \draw[ln] (dcs.west) -- (1176,128) -- (srtd.north -| 1176,0);
 \draw[ln] (dcs.east) -- (1325,128) -- (fltd.north -| 1325,0);
 \draw[ln] (srtd.south -| 1176,0) -- (1176,298) -- (cdd.west |- 0,298);
 \draw[ln] (fltd.south -| 1325,0) -- (1325,298) -- (cdd.east |- 0,298);
 \draw[ln] (dcs.south -| 1250,0) -- (cdd.north -| 1250,0);
 \draw[ln] (cdd.south -| 1250,0) -- (1250,338) (1250,360) -- (cmtd.north -| 1250,0);

 \draw[ln] (srch.west |- 0,747) -- (320,747) -- (grv2.north -| 320,0);
 \draw[ln] (srch.east |- 0,747) -- (534,747) -- (evn2.north -| 534,0);
 \draw[ln] (srch.south -| 421,0) -- (421,828) -- (dsc2.east |- 0,828);
 \draw[ln] (srch.south -| 445,0) -- (445,828) -- (pol2.west |- 0,828);

 \nb{hlp}{626}{837}{695}{879}{Help}
 \nb{ghs}{846}{839}{989}{881}{Grievances History}
 \nb{spt}{661}{918}{745}{960}{Support}
 \nb{sett}{795}{918}{881}{960}{Settings}
 \nb{prof}{679}{1001}{754}{1044}{Profile}
 \nb{actv}{791}{1001}{898}{1044}{Activity Log}
 \draw[ln] (ham.west |- 0,747) -- (665,747) -- (hlp.north -| 665,0);
 \draw[ln] (ham.east |- 0,747) -- (874,747) -- (ghs.north -| 874,0);
 \draw[ln] (ham.south -| 716,0) -- (spt.north -| 716,0);
 \draw[ln] (ham.south -| 823,0) -- (sett.north -| 823,0);
 \draw[ln] (ham.south -| 762,0) -- (762,1022) -- (prof.east);
 \draw[ln] (ham.south -| 780,0) -- (780,1022) -- (actv.west);
 \nb[ifill]{ntb}{1032}{823}{1210}{903}{Notification about activities\\Comment replies\\Decision of government}
 \draw[ln] (ntf.south -| 1121,0) -- (ntb.north -| 1121,0);
 \nb[ibig]{pers}{403}{1091}{542}{1255}{Personal info\\Name\\Age\\Sex\\Martial status}
 \nb[ibig]{offc}{579}{1122}{752}{1227}{Official Documents\\PAN Card\\AADHAR Card, etc}
 \nb{upl}{492}{1327}{635}{1369}{Upload documents}
 \nb{fex}{511}{1416}{616}{1459}{File Explorer}
 \draw[ln] (prof.west) -- (475,1022) -- (pers.north -| 475,0);
 \draw[ln] (649,1022) -- (offc.north -| 649,0);
 \draw[ln] (pers.south -| 475,0) -- (475,1297) -- (649,1297) -- (offc.south -| 649,0);
 \draw[ln] (562,1297) -- (upl.north -| 562,0);
 \draw[ln] (upl.south -| 562,0) -- (fex.north -| 562,0);
\end{scope}
\end{tikzpicture}
\end{document}
